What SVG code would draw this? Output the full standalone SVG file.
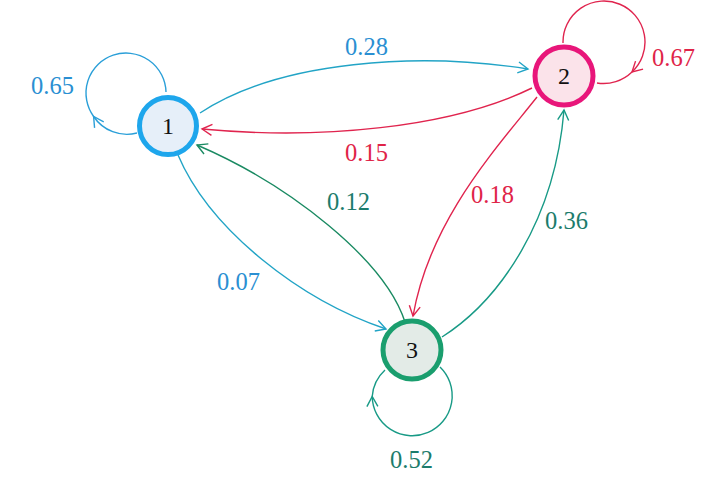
<svg xmlns="http://www.w3.org/2000/svg" width="726" height="492" viewBox="0 0 726 492">
<style>
.e{fill:none;stroke-width:1.4}
.cy{stroke:#22a4c6}
.bl{stroke:#2a9fd8}
.rd{stroke:#e0244e}
.gr{stroke:#1a8a62}
.tl{stroke:#189a86}
.lb{font-family:"Liberation Serif",serif;font-size:24.5px}
.nl{font-family:"Liberation Serif",serif;font-size:24px;fill:#111;text-anchor:middle}
.cb{fill:#2a8fd2}
.cr{fill:#e02448}
.ct{fill:#1c7c6c}
</style>
<defs>
<marker id="aCy" markerUnits="userSpaceOnUse" markerWidth="14" markerHeight="14" refX="11" refY="6" orient="auto" viewBox="0 0 14 12"><path d="M1,0.5 L11,6 L1,11.5" fill="none" stroke="#22a4c6" stroke-width="1.4"/></marker>
<marker id="aBl" markerUnits="userSpaceOnUse" markerWidth="14" markerHeight="14" refX="11" refY="6" orient="auto" viewBox="0 0 14 12"><path d="M1,0.5 L11,6 L1,11.5" fill="none" stroke="#2a9fd8" stroke-width="1.4"/></marker>
<marker id="aRd" markerUnits="userSpaceOnUse" markerWidth="14" markerHeight="14" refX="11" refY="6" orient="auto" viewBox="0 0 14 12"><path d="M1,0.5 L11,6 L1,11.5" fill="none" stroke="#e0244e" stroke-width="1.4"/></marker>
<marker id="aGr" markerUnits="userSpaceOnUse" markerWidth="14" markerHeight="14" refX="11" refY="6" orient="auto" viewBox="0 0 14 12"><path d="M1,0.5 L11,6 L1,11.5" fill="none" stroke="#1a8a62" stroke-width="1.4"/></marker>
<marker id="aTl" markerUnits="userSpaceOnUse" markerWidth="14" markerHeight="14" refX="11" refY="6" orient="auto" viewBox="0 0 14 12"><path d="M1,0.5 L11,6 L1,11.5" fill="none" stroke="#189a86" stroke-width="1.4"/></marker>
</defs>
<rect width="726" height="492" fill="#ffffff"/>
<g id="connectors">
<path class="e cy" d="M200,113 C280,60 420,52 528,69" marker-end="url(#aCy)"/>
<path class="e rd" d="M532,88 C450,128 320,140 202,129" marker-end="url(#aRd)"/>
<path class="e gr" d="M405,322 C385,260 290,185 197,145" marker-end="url(#aGr)"/>
<path class="e cy" d="M178,155 C210,230 300,300 386,329" marker-end="url(#aCy)"/>
<path class="e rd" d="M537,97 C495,150 430,220 413,316" marker-end="url(#aRd)"/>
<path class="e tl" d="M442,337 C500,300 555,220 564,110" marker-end="url(#aTl)"/>
<path class="e bl" d="M137,133 A40,40 0 0 1 93.6,116.5" marker-end="url(#aBl)"/>
<path class="e bl" d="M93.6,116.5 A40,40 0 1 1 166,92"/>
<path class="e rd" d="M563,43 A41,41 0 1 1 632,72" marker-end="url(#aRd)"/>
<path class="e rd" d="M632,72 A41,41 0 0 1 597,83"/>
<path class="e tl" d="M440,367 A40,40 0 1 1 372.2,396.5" marker-end="url(#aTl)"/>
<path class="e tl" d="M372.2,396.5 A40,40 0 0 1 385,370"/>
</g>
<g id="node1">
<circle cx="168" cy="126" r="28.5" fill="#e6eff9" stroke="#1ea6ec" stroke-width="5"/>
<text class="nl" x="168" y="134">1</text>
</g>
<g id="node2">
<circle cx="564" cy="76" r="29" fill="#fbe3ea" stroke="#e8167a" stroke-width="5"/>
<text class="nl" x="564" y="84">2</text>
</g>
<g id="node3">
<circle cx="412" cy="350" r="29" fill="#e3ebe7" stroke="#1a9e6e" stroke-width="5"/>
<text class="nl" x="412" y="358">3</text>
</g>
<g id="labels">
<text class="lb cb" x="345" y="55">0.28</text>
<text class="lb cr" x="345" y="161">0.15</text>
<text class="lb ct" x="327" y="210">0.12</text>
<text class="lb cb" x="217" y="290">0.07</text>
<text class="lb cr" x="471" y="203">0.18</text>
<text class="lb ct" x="545" y="229">0.36</text>
<text class="lb cb" x="31" y="94">0.65</text>
<text class="lb cr" x="652" y="66">0.67</text>
<text class="lb ct" x="390" y="468">0.52</text>
</g>
</svg>
